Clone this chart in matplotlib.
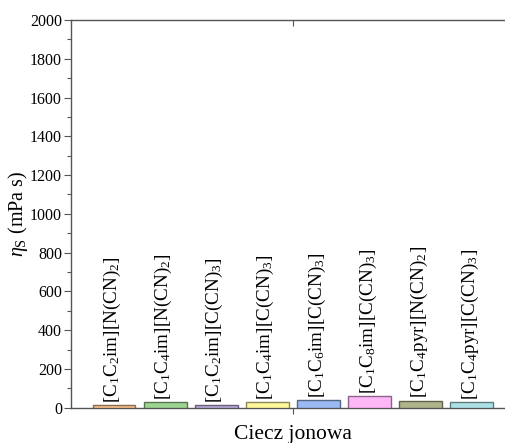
import matplotlib
matplotlib.use("Agg")
import matplotlib.pyplot as plt
from matplotlib.ticker import MultipleLocator, FixedLocator
import matplotlib.colors as mcolors

plt.rcParams['font.family'] = ['Liberation Serif', 'DejaVu Serif']
plt.rcParams['mathtext.fontset'] = 'custom'
plt.rcParams['mathtext.rm'] = 'Liberation Serif'
plt.rcParams['mathtext.it'] = 'Liberation Serif:italic'
plt.rcParams['mathtext.bf'] = 'Liberation Serif:bold'

labels = [r'[C$_1$C$_2$im][N(CN)$_2$]', r'[C$_1$C$_4$im][N(CN)$_2$]',
          r'[C$_1$C$_2$im][C(CN)$_3$]', r'[C$_1$C$_4$im][C(CN)$_3$]',
          r'[C$_1$C$_6$im][C(CN)$_3$]', r'[C$_1$C$_8$im][C(CN)$_3$]',
          r'[C$_1$C$_4$pyr][N(CN)$_2$]', r'[C$_1$C$_4$pyr][C(CN)$_3$]']
values = [15, 30, 16, 27, 41, 58, 37, 29]
colors = ['#F9C08E', '#9ED492', '#BBA9DA', '#FFF79A', '#9BB9F2', '#FDB7F7', '#B0B48B', '#ADE0E6']

fig = plt.figure(figsize=(5.05, 4.43), dpi=100)
ax = fig.add_axes([71/505, 1-407.7/443, 1-71/505, (407.7-20)/443])

xs = list(range(len(values)))
edges = [tuple(c*0.55 for c in mcolors.to_rgb(col)) for col in colors]
ax.bar(xs, values, width=0.84, color=colors, edgecolor=edges, linewidth=1.0, zorder=3)

for x, v, lab in zip(xs, values, labels):
    ax.annotate(lab, (x, v), xytext=(-1, 1.5), textcoords='offset points',
                rotation=90, ha='center', va='bottom', fontsize=13.8)

ax.set_xlim(-0.841, 7.65)
ax.set_ylim(0, 2000)
ax.yaxis.set_major_locator(MultipleLocator(200))
ax.yaxis.set_minor_locator(MultipleLocator(100))
ax.xaxis.set_major_locator(FixedLocator([3.5]))
ax.set_xticklabels([''])

spine_col = '#555555'
for s in ['left', 'bottom', 'top']:
    ax.spines[s].set_color(spine_col)
    ax.spines[s].set_linewidth(1.0)
ax.spines['right'].set_visible(False)

ax.tick_params(axis='y', which='major', direction='out', length=5, width=0.8,
               color=spine_col, labelsize=11.5, pad=1.5)
ax.tick_params(axis='y', which='minor', direction='out', length=3, width=0.8, color=spine_col)
ax.tick_params(axis='x', which='major', direction='out', length=4, width=0.8,
               color=spine_col, top=False)

# top tick inward
secx = ax.secondary_xaxis('top')
secx.xaxis.set_major_locator(FixedLocator([3.5]))
secx.tick_params(direction='in', length=4, width=0.8, color=spine_col, labeltop=False)
secx.spines['top'].set_visible(False)

ax.set_ylabel(r'$\eta_\mathrm{S}$ (mPa s)', fontsize=14.5, labelpad=0)
ax.set_xlabel('Ciecz jonowa', fontsize=15.5)
ax.xaxis.set_label_coords((293-71)/434, -0.044, transform=ax.transAxes)
ax.xaxis.label.set_va('top')

fig.savefig('out.png', dpi=100)
